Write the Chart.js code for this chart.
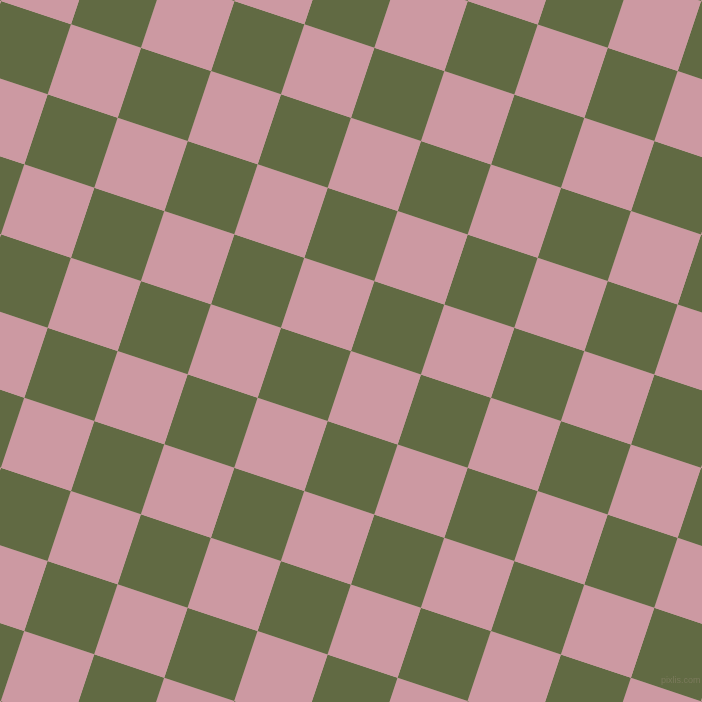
<!DOCTYPE html>
<html>
<head>
<meta charset="utf-8">
<script src="https://cdn.jsdelivr.net/npm/chart.js@4.4.1/dist/chart.umd.min.js"></script>
<style>
  html, body { margin: 0; padding: 0; background: #d9b3b9; overflow: hidden; }
  #wrap { position: relative; width: 702px; height: 702px; }
  #mark { position: absolute; left: 661px; top: 675px; font: 9px "Liberation Sans", sans-serif; color: #7b7a5c; white-space: nowrap; }
</style>
</head>
<body>
<div id="wrap">
  <canvas id="board" width="702" height="702"></canvas>
  <div id="mark">pixlis.com</div>
</div>
<script>
// lattice: one corner and the two edge vectors
const origin = [71, 24.3];
const stepAcross = [70, 23.35];
const stepDown = [-23.35, 70];

const colIndex = [-2, -1, 0, 1, 2, 3, 4, 5, 6, 7, 8, 9, 10, 11];
const rowIndex = [-4, -3, -2, -1, 0, 1, 2, 3, 4, 5, 6, 7, 8, 9];
const tileColours = ["#cc99a2", "#616a43"];

function corner(i, j) {
    return {
        x: origin[0] + i * stepAcross[0] + j * stepDown[0],
        y: origin[1] + i * stepAcross[1] + j * stepDown[1]
    };
}

let datasets = [];
for (let i of colIndex) {
    for (let j of rowIndex) {
        let c = tileColours[Math.abs(i + j) % 2];
        datasets.push({
            data: [corner(i, j), corner(i + 1, j), corner(i + 1, j + 1), corner(i, j + 1), corner(i, j)],
            showLine: true,
            fill: 'shape',
            backgroundColor: c,
            borderColor: c,
            borderWidth: 0,
            pointRadius: 0,
            tension: 0
        });
    }
}

new Chart(document.getElementById("board"), {
    type: 'scatter',
    data: { datasets: datasets },
    options: {
        responsive: false,
        animation: false,
        layout: { padding: 0 },
        plugins: { legend: { display: false }, tooltip: { enabled: false } },
        scales: {
            x: { type: 'linear', min: 0, max: 702, display: false },
            y: { type: 'linear', min: 0, max: 702, reverse: true, display: false }
        }
    }
});
</script>
</body>
</html>
